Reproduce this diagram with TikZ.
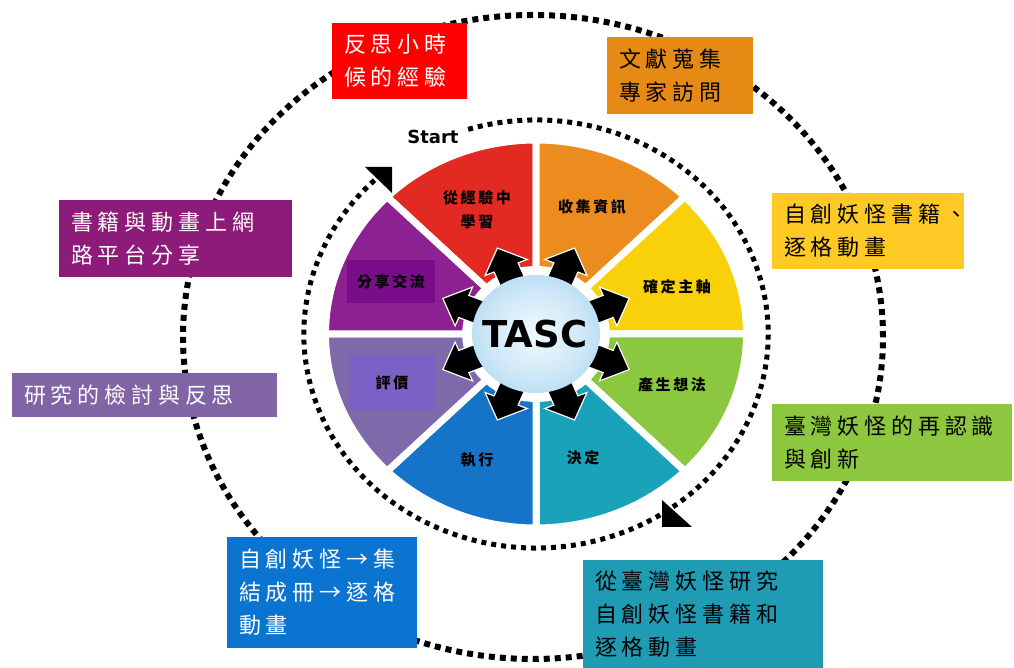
\documentclass[tikz,border=0pt]{standalone}
\usepackage{fontspec}
\setmainfont{DejaVu Sans}
\newfontfamily\cjk[LetterSpace=22]{Noto Sans CJK TC}
\newfontfamily\cjkwedge[LetterSpace=17]{Noto Sans CJK TC}
\usepackage{tikz}
\usetikzlibrary{shapes,arrows}

\definecolor{wred}{HTML}{E32A22}
\definecolor{worange}{HTML}{EC8C1E}
\definecolor{wyellow}{HTML}{F8D10A}
\definecolor{wgreen}{HTML}{8CC740}
\definecolor{wteal}{HTML}{1AA2BA}
\definecolor{wblue}{HTML}{1574C8}
\definecolor{wlav}{HTML}{7E69AB}
\definecolor{wpurple}{HTML}{8C2191}
\definecolor{lblpurple}{HTML}{7A0D8A}
\definecolor{lbllav}{HTML}{7B61C6}
\definecolor{bred}{HTML}{FF0000}
\definecolor{borange}{HTML}{E68A15}
\definecolor{byellow}{HTML}{FFC926}
\definecolor{bgreen}{HTML}{8DC63F}
\definecolor{bteal}{HTML}{1F9BB4}
\definecolor{bblue}{HTML}{0A74D0}
\definecolor{bpurple}{HTML}{8C1B79}
\definecolor{blav}{HTML}{8064A6}
\definecolor{tascin}{HTML}{F2F9FD}
\definecolor{tascmid}{HTML}{CFE8F7}
\definecolor{tascout}{HTML}{8FCBEE}
\definecolor{tascedge}{HTML}{62B0E0}
\pgfdeclareradialshading{tascball}{\pgfpoint{0bp}{0bp}}{color(0bp)=(tascin); color(18bp)=(tascmid); color(42bp)=(tascout); color(50bp)=(tascedge)}

\tikzstyle{box} = [rectangle, inner xsep=12pt, inner ysep=0pt, align=left,
font=\cjk\fontsize{22}{33}\selectfont]
\tikzstyle{wedge} = [draw=white, line width=7pt, line join=round]
\tikzstyle{wedge label} = [font=\cjkwedge\bfseries\fontsize{15}{24}\selectfont, align=center, inner sep=0pt]
\tikzstyle{ring} = [line width=5pt, dash pattern=on 5pt off 5pt]
\tikzstyle{push} = [fill=black, draw=white, line width=1.2pt, line join=miter]

\begin{document}
\begin{tikzpicture}[x=1pt, y=1pt]
	\useasboundingbox (0,0) rectangle (1014,668);
	% outer ring
	\draw [ring, line width=6pt, dash pattern=on 6pt off 5pt] (533,331) ellipse [x radius=350, y radius=322];
	
	% wheel
	\begin{scope}[shift={(536,334)}, xscale=1.085]
		\foreach \a/\col in {90/wred, 45/worange, 0/wyellow, -45/wgreen, -90/wteal, -135/wblue, 180/wlav, 135/wpurple}
			\filldraw [wedge, fill=\col] (0,0) -- (\a:194) arc [start angle=\a, delta angle=45, radius=194] -- cycle;
		\fill [white] (0,0) circle [radius=68];
		\foreach \a in {22.5, 67.5, ..., 337.5}
			\filldraw [push, rotate=\a] (55,-12) -- (72,-12) -- (72,-21) -- (93,0) -- (72,21) -- (72,12) -- (55,12) -- cycle;
		\shade [shading=tascball] (0,0) circle [radius=59];
		\draw [ring] (107:214) arc [start angle=107, end angle=-226, radius=214];
	\end{scope}
	\fill (365,501) -- (392,501) -- (392,475) -- cycle;
	\fill (662,168) -- (662,141) -- (692,141) -- cycle;
	
	% Place nodes
	\node [font=\bfseries\fontsize{37}{37}\selectfont] (tasc) at (535,334) {TASC};
	\node [font=\bfseries\fontsize{18}{18}\selectfont] (start) at (433,531) {Start};
	\node [wedge label] (learn) at (477,458) {從經驗中\\學習};
	\node [wedge label] (collect) at (592,461) {收集資訊};
	\node [wedge label] (focus) at (677,381) {確定主軸};
	\node [wedge label] (idea) at (672,283) {產生想法};
	\node [wedge label] (decide) at (583,210) {決定};
	\node [wedge label] (act) at (477,208) {執行};
	\node [wedge label, fill=lbllav, minimum width=86pt, minimum height=55pt] (judge) at (392,285) {評價};
	\node [wedge label, fill=lblpurple, minimum width=88pt, minimum height=43pt] (share) at (391,386) {分享交流};
	
	% Place nodes
	\node [box, fill=bred, text=white, minimum height=76pt, text width=111pt] (reflect) at (399.5,607) {反思小時\\候的經驗};
	\node [box, fill=borange, minimum height=77pt, text width=122pt] (survey) at (680,592.5) {文獻蒐集\\專家訪問};
	\node [box, fill=byellow, minimum height=76pt, text width=168pt] (create) at (868,437) {自創妖怪書籍、\\逐格動畫};
	\node [box, fill=bgreen, minimum height=77pt, text width=216pt] (renew) at (892,225.5) {臺灣妖怪的再認識\\與創新};
	\node [box, fill=bteal, minimum height=108pt, text width=216pt] (study) at (703,54) {從臺灣妖怪研究\\自創妖怪書籍和\\逐格動畫};
	\node [box, fill=bblue, text=white, minimum height=111pt, text width=166pt] (publish) at (322,75.5) {自創妖怪→集\\結成冊→逐格\\動畫};
	\node [box, fill=bpurple, text=white, minimum height=77pt, text width=209pt] (online) at (175.5,429.5) {書籍與動畫上網\\路平台分享};
	\node [box, fill=blav, text=white, minimum height=44pt, text width=241pt] (review) at (144.5,273) {研究的檢討與反思};
\end{tikzpicture}
\end{document}
